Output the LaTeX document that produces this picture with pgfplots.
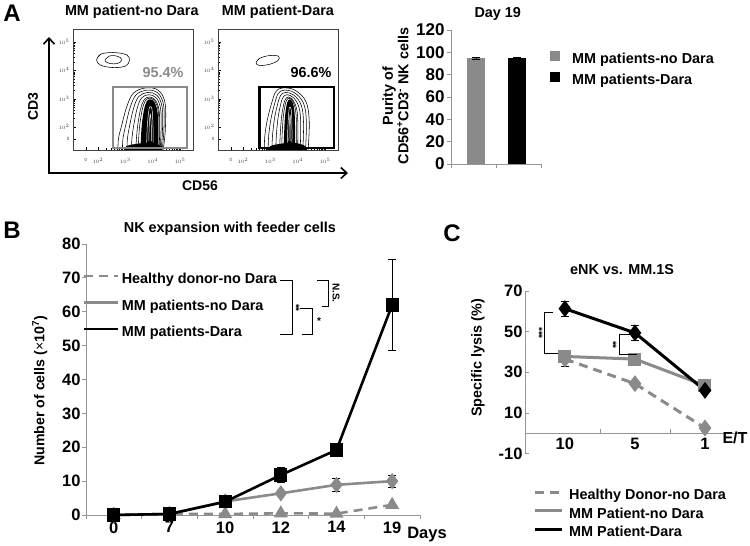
\documentclass[border=0pt]{standalone}
\usepackage{fontspec}
\setmainfont{Liberation Sans}
\usepackage{pgfplots}
\pgfplotsset{compat=1.18}
\usetikzlibrary{arrows.meta}
\definecolor{mgray}{RGB}{138,138,138}
\definecolor{agray}{RGB}{150,150,150}
\newcommand{\fs}[1]{\fontsize{#1}{#1}\selectfont\bfseries}
\pgfplotsset{
  /pgf/number format/assume math mode=true,
  flow/.style={scale only axis, width=120pt, height=121pt, anchor=south west,
    xmin=1.09,xmax=5.47,ymin=1.19,ymax=5.46,
    axis line style={black!75, line width=0.5pt},
    xtick={1.56,2,3,4,5}, xticklabels={0,$10^2$,$10^3$,$10^4$,$10^5$},
    ytick={1.58,2,3,4,5}, yticklabels={0,$10^2$,$10^3$,$10^4$,$10^5$},
    minor xtick={2.30,2.48,2.60,2.70,2.78,2.85,2.90,2.95,3.30,3.48,3.60,3.70,3.78,3.85,3.90,3.95,4.30,4.48,4.60,4.70,4.78,4.85,4.90,4.95},
    minor ytick={2.30,2.48,2.60,2.70,2.78,2.85,2.90,2.95,3.30,3.48,3.60,3.70,3.78,3.85,3.90,3.95,4.30,4.48,4.60,4.70,4.78,4.85,4.90,4.95},
    xtick pos=bottom, ytick pos=left, tick align=inside,
    major tick length=2.5pt, minor tick length=1.5pt,
    tick style={black, line width=0.4pt},
    tick label style={font=\fontsize{4.5}{5}\selectfont, text=black!75},
    xticklabel style={yshift=-5pt},
    title style={font=\fs{14.4}, anchor=center},
  },
  cont/.style={black, line width=0.55pt, smooth, tension=0.6},
  mylegend/.style={legend cell align=left, legend style={draw=none, fill=none, inner sep=0pt,
     nodes={inner sep=0pt, text height=10.5pt, text depth=3.5pt, font=\fs{14.4}}}},
  ebar/.style={error bars/.cd, y dir=both, y explicit,
     error bar style={black, line width=0.7pt, solid},
     error mark options={rotate=90, mark size=4pt, line width=0.7pt, black, solid}},
}
\begin{document}
\begin{tikzpicture}[x=1pt,y=1pt]
\path[use as bounding box] (0,0) rectangle (750,546);

% ---------------- Panel A: flow plots ----------------
\node[font=\fs{24}] at (12,{546-13}) {A};

\begin{axis}[flow, at={(73pt,396pt)}, title={MM patient-no Dara},
  title style={at={(axis description cs:0.49,1.09)}}]
% upper CD3+ population
\addplot[cont] coordinates {(1.95,4.37)(2.1,4.57)(2.55,4.63)(3.05,4.55)(3.15,4.35)(3.0,4.15)(2.55,4.1)(2.1,4.18)(1.95,4.37)(2.1,4.57)};
\addplot[cont] coordinates {(2.26,4.37)(2.4,4.5)(2.6,4.52)(2.82,4.45)(2.85,4.33)(2.7,4.24)(2.45,4.24)(2.3,4.3)(2.26,4.37)(2.4,4.5)};
% main NK population
\addplot[cont] coordinates {(2.73,1.19)(2.75,1.6)(2.87,2.07)(3.05,2.71)(3.3,3.2)(3.75,3.38)(4.2,3.3)(4.45,2.85)(4.46,1.9)(4.38,1.19)};
\addplot[cont] coordinates {(2.894,1.19)(2.914,1.6)(3.016,2.07)(3.176,2.688)(3.396,3.14)(3.784,3.30)(4.176,3.21)(4.396,2.78)(4.408,1.9)(4.344,1.19)};
\addplot[cont] coordinates {(3.058,1.19)(3.078,1.6)(3.162,2.07)(3.302,2.666)(3.492,3.08)(3.818,3.22)(4.152,3.12)(4.342,2.71)(4.356,1.9)(4.308,1.19)};
\addplot[cont] coordinates {(3.222,1.19)(3.242,1.6)(3.308,2.07)(3.428,2.644)(3.588,3.02)(3.852,3.14)(4.128,3.03)(4.288,2.64)(4.304,1.9)(4.272,1.19)};
\addplot[cont] coordinates {(3.386,1.19)(3.406,1.6)(3.454,2.07)(3.554,2.622)(3.684,2.96)(3.886,3.06)(4.104,2.94)(4.234,2.57)(4.252,1.9)(4.236,1.19)};
\addplot[cont] coordinates {(3.468,1.19)(3.488,1.6)(3.527,2.07)(3.617,2.611)(3.732,2.93)(3.903,3.02)(4.092,2.895)(4.207,2.535)(4.226,1.9)(4.218,1.19)};
\addplot[fill=black, draw=none, smooth, tension=0.6] coordinates {(3.55,1.19)(3.57,1.6)(3.6,2.07)(3.68,2.6)(3.78,2.9)(3.92,2.98)(4.08,2.85)(4.18,2.5)(4.2,1.9)(4.2,1.19)};
\addplot[white, line width=0.5pt, smooth, tension=0.6] coordinates {(3.78,1.45)(3.8,2.0)(3.86,2.6)(3.92,2.72)(3.98,2.58)(4.01,2.0)(4.01,1.45)};
\addplot[white, line width=0.5pt, smooth, tension=0.6] coordinates {(3.86,1.5)(3.87,2.0)(3.91,2.45)(3.95,2.0)(3.95,1.5)};
\addplot[fill=black, draw=none, smooth, tension=0.6] coordinates {(2.95,1.19)(3.05,1.33)(3.5,1.42)(4.0,1.44)(4.28,1.34)(4.32,1.19)};
% gate
\addplot[mgray, line width=2.5pt, line join=miter] coordinates {(2.55,1.26)(5.25,1.26)(5.25,3.42)(2.55,3.42)(2.55,1.26)(5.25,1.26)};
\end{axis}

\begin{axis}[flow, at={(218pt,396pt)}, title={MM patient-Dara},
  title style={at={(axis description cs:0.5,1.09)}}]
\addplot[cont] coordinates {(2.48,4.27)(2.6,4.42)(2.95,4.52)(3.3,4.5)(3.28,4.35)(3.0,4.22)(2.6,4.17)(2.48,4.27)(2.6,4.42)};
\addplot[cont] coordinates {(2.78,1.19)(2.8,1.7)(2.9,2.3)(3.05,2.85)(3.2,3.25)(3.45,3.38)(3.9,3.3)(4.3,2.9)(4.42,2.2)(4.38,1.19)};
\addplot[cont] coordinates {(2.92,1.19)(2.94,1.7)(3.026,2.3)(3.156,2.82)(3.286,3.18)(3.504,3.30)(3.884,3.21)(4.216,2.83)(4.316,2.18)(4.284,1.19)};
\addplot[cont] coordinates {(3.06,1.19)(3.08,1.7)(3.152,2.3)(3.262,2.79)(3.372,3.11)(3.558,3.22)(3.868,3.12)(4.132,2.76)(4.212,2.16)(4.188,1.19)};
\addplot[cont] coordinates {(3.2,1.19)(3.22,1.7)(3.278,2.3)(3.368,2.76)(3.458,3.04)(3.612,3.14)(3.852,3.03)(4.048,2.69)(4.108,2.14)(4.092,1.19)};
\addplot[cont] coordinates {(3.34,1.19)(3.36,1.7)(3.404,2.3)(3.474,2.73)(3.544,2.97)(3.666,3.06)(3.836,2.94)(3.964,2.62)(4.004,2.12)(3.996,1.19)};
\addplot[cont] coordinates {(3.41,1.19)(3.43,1.7)(3.467,2.3)(3.527,2.715)(3.587,2.935)(3.693,3.02)(3.828,2.895)(3.922,2.585)(3.952,2.11)(3.948,1.19)};
\addplot[fill=black, draw=none, smooth, tension=0.6] coordinates {(3.48,1.19)(3.5,1.7)(3.53,2.3)(3.58,2.7)(3.63,2.9)(3.72,2.98)(3.82,2.85)(3.88,2.55)(3.9,2.1)(3.9,1.19)};
\addplot[white, line width=0.5pt, smooth, tension=0.6] coordinates {(3.62,1.45)(3.64,2.0)(3.68,2.6)(3.72,2.7)(3.77,2.55)(3.79,2.0)(3.79,1.45)};
\addplot[white, line width=0.5pt, smooth, tension=0.6] coordinates {(3.68,1.5)(3.69,2.0)(3.72,2.42)(3.75,2.0)(3.75,1.5)};
\addplot[fill=black, draw=none, smooth, tension=0.6] coordinates {(2.92,1.19)(3.0,1.33)(3.45,1.42)(3.9,1.44)(4.25,1.34)(4.3,1.19)};
\addplot[black, line width=2.5pt, line join=miter] coordinates {(2.6,1.26)(5.33,1.26)(5.33,3.42)(2.6,3.42)(2.6,1.26)(5.33,1.26)};
\end{axis}

\node[font=\fs{14.4}, text=mgray] at (163,{546-73}) {95.4\%};
\node[font=\fs{14.4}] at (311,{546-73}) {96.6\%};
\draw[line width=1.6pt, {Straight Barb[length=6pt,width=11pt]}-{Straight Barb[length=6pt,width=11pt]}]
  (49,{546-37}) -- (49,{546-173}) -- (348,{546-173});
\node[font=\fs{14}, rotate=90] at (33,{546-107}) {CD3};
\node[font=\fs{14}] at (200,{546-186}) {CD56};

% ---------------- Panel A: bar chart ----------------
\begin{axis}[at={(451pt,382pt)}, anchor=south west, scale only axis, width=90pt, height=134pt,
  xmin=-0.6, xmax=1.57, ymin=0, ymax=120,
  axis x line*=bottom, axis y line*=left, axis line style={agray, line width=0.8pt},
  xtick={-0.6,0.5,1.57}, xticklabels={}, ytick={0,20,...,120},
  tick align=outside, major tick length=4pt, tick style={agray, line width=0.8pt},
  yticklabel style={font=\fs{17}, xshift=1pt},
  title={Day 19}, title style={font=\fs{14.4}, at={(axis description cs:0.52,1.075)}, anchor=center},
  ylabel={Purity of\\CD56\textsuperscript{+}CD3\textsuperscript{-} NK cells},
  ylabel style={align=center, font=\fontsize{14.4}{15.5}\selectfont\bfseries, at={(axis description cs:-0.617,0.507)}, anchor=center},
  mylegend, legend style={at={(axis description cs:1.1,0.843)}, anchor=north west, column sep=12pt, row sep=5pt},
]
\addplot[ybar, bar width=18pt, bar shift=0pt, fill=mgray, draw=none,
  legend image code/.code={\fill[mgray] (0pt,-1pt) rectangle (10pt,9pt);}, ebar] coordinates {(0,94.5) +- (0,0.6)};
\addlegendentry{MM patients-no Dara}
\addplot[ybar, bar width=18pt, bar shift=0pt, fill=black, draw=none,
  legend image code/.code={\fill[black] (0pt,-1pt) rectangle (10pt,9pt);}, ebar] coordinates {(1,95.3) +- (0,0.6)};
\addlegendentry{MM patients-Dara}
\end{axis}

% ---------------- Panel B ----------------
\node[font=\fs{24}] at (12,{546-230}) {B};
\begin{axis}[at={(86pt,31pt)}, anchor=south west, scale only axis, width=334pt, height=271pt,
  xmin=-0.5, xmax=5.5, ymin=0, ymax=80,
  axis x line*=bottom, axis y line*=left, axis line style={agray, line width=0.8pt},
  xtick={-0.5,0.5,...,5.5}, xticklabels={},
  extra x ticks={0,1,2,3,4,5}, extra x tick labels={0,7,10,12,14,19},
  extra x tick style={major tick length=0pt, tick label style={yshift=-3pt}},
  ytick={0,10,...,80},
  tick align=outside, major tick length=4pt, tick style={agray, line width=0.8pt},
  tick label style={font=\fs{16.5}},
  yticklabel style={xshift=2pt},
  title={NK expansion with feeder cells}, title style={font=\fs{14.4}, at={(axis description cs:0.431,1.033)}, anchor=center},
  ylabel={Number of cells ({\mdseries\texttimes}10\textsuperscript{7})},
  ylabel style={font=\fs{14.2}, at={(axis description cs:-0.138,0.458)}, anchor=center},
  mylegend, legend style={at={(axis description cs:-0.009,0.893)}, anchor=north west, column sep=2pt, row sep=12.5pt},
  legend image code/.code={\draw[#1] (0pt,4pt) -- (34pt,4pt);},
  clip=false,
]
\addplot[mgray, line width=2.6pt, dash pattern=on 9pt off 6pt, mark=triangle*, mark size=5.5pt, mark options={solid}, ebar]
  coordinates {(0,0) (1,0.3) (2,0.3) (3,0.5) (4,0.4) (5,3.0)};
\addlegendentry{Healthy donor-no Dara}
\addplot[mgray, line width=2.6pt, mark=diamond*, mark size=6pt, mark options={solid}, ebar]
  coordinates {(0,0) (1,0.3) (2,4.0) (3,6.4) +- (0,0.4) (4,8.9) +- (0,2.0) (5,10.0) +- (0,1.8)};
\addlegendentry{MM patients-no Dara}
\addplot[black, line width=2.6pt, mark=square*, mark size=5.3pt, mark options={solid}, ebar]
  coordinates {(0,0) (1,0.3) (2,3.9) (3,11.8) +- (0,2.2) (4,19.2) +- (0,0.4) (5,62.0) +- (0,13.5)};
\addlegendentry{MM patients-Dara}
\end{axis}
\node[font=\fs{16.5}] at (427,{546-535}) {Days};
% significance brackets B
\draw[line width=0.8pt] (280,{546-280}) -- (292,{546-280}) -- (292,{546-334}) -- (280,{546-334});
\draw[line width=0.8pt] (300,{546-308}) -- (312,{546-308}) -- (312,{546-334}) -- (302,{546-334});
\draw[line width=0.8pt] (317,{546-280}) -- (328,{546-280}) -- (328,{546-306}) -- (322,{546-306});
\node[font=\fs{10}, rotate=-90] at (296,{546-308}) {**};
\node[font=\fs{10}] at (319,{546-321}) {*};
\node[font=\fs{10}, rotate=-90] at (336,{546-293}) {N.S.};

% ---------------- Panel C ----------------
\node[font=\fs{24}] at (452,{546-233}) {C};
\begin{axis}[at={(525pt,92.4pt)}, anchor=south west, scale only axis, width=222pt, height=162.6pt,
  xmin=-0.57, xmax=2.6, ymin=-10, ymax=70,
  axis x line*=middle, axis y line*=left, axis line style={agray, line width=0.8pt},
  xtick={0.5,1.5}, xticklabels={},
  extra x ticks={0,1,2}, extra x tick labels={10,5,1},
  extra x tick style={major tick length=0pt, tick label style={yshift=-1pt}},
  ytick={-10,10,30,50,70},
  major tick length=4pt, tick style={agray, line width=0.8pt},
  tick label style={font=\fs{16.5}},
  yticklabel style={xshift=1pt},
  title={eNK vs. MM.1S}, title style={font=\fs{14.4}, at={(axis description cs:0.437,1.098)}, anchor=center},
  ylabel={Specific lysis (\%)},
  ylabel style={font=\fs{14.4}, at={(axis description cs:-0.212,0.588)}, anchor=center},
  mylegend, legend style={at={(axis description cs:0.036,-0.218)}, anchor=north west, column sep=6pt, row sep=4.5pt},
  legend image code/.code={\draw[#1] (0pt,4pt) -- (27pt,4pt);},
  clip=false,
]
\addplot[mgray, line width=3pt, dash pattern=on 9pt off 6pt, mark=diamond*, mark size=6pt, mark options={solid}, ebar]
  coordinates {(0,36.5) +- (0,3.6) (1,24.4) (2,2.6)};
\addlegendentry{Healthy Donor-no Dara}
\addplot[mgray, line width=3pt, mark=square*, mark size=5pt, mark options={solid}, ebar]
  coordinates {(0,37.8) +- (0,2.7) (1,36.5) +- (0,1.5) (2,23.5) +- (0,3.2)};
\addlegendentry{MM Patient-no Dara}
\addplot[black, line width=3pt, mark=diamond*, mark size=6pt, mark options={solid}, ebar]
  coordinates {(0,61.3) +- (0,3.6) (1,49.4) +- (0,3.6) (2,21.1)};
\addlegendentry{MM Patient-Dara}
\end{axis}
\node[font=\fs{16}] at (735,{546-438}) {E/T};
% significance brackets C
\draw[line width=0.8pt] (553,{546-312.3}) -- (544,{546-312.3}) -- (544,{546-353.3}) -- (558,{546-353.3});
\node[font=\fs{10}, rotate=-90] at (539,{546-333}) {***};
\draw[line width=0.8pt] (632,{546-334}) -- (619,{546-334}) -- (619,{546-354}) -- (637,{546-354});
\node[font=\fs{10}, rotate=-90] at (613,{546-345}) {**};
\end{tikzpicture}
\end{document}
